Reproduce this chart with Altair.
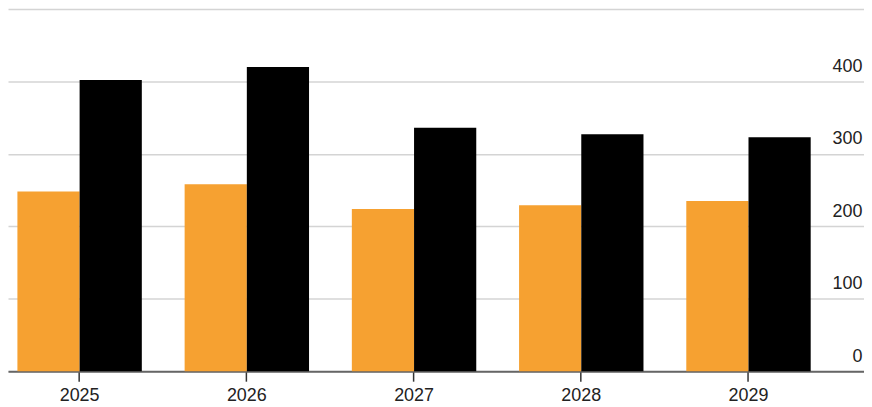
import altair as alt
import pandas as pd

years = ["2025", "2026", "2027", "2028", "2029"]
orange_vals = [248, 258, 224, 229, 235]
black_vals = [402, 420, 336, 327, 323]
series = ["A", "B"]
y_ticks = [0, 100, 200, 300, 400, 500]

rows = []
for i, yr in enumerate(years):
    rows.append({"year": yr, "series": series[0], "value": orange_vals[i]})
    rows.append({"year": yr, "series": series[1], "value": black_vals[i]})
df = pd.DataFrame(rows)

chart = alt.Chart(df).mark_bar().encode(
    x=alt.X("year:N", sort=years, title=None,
            scale=alt.Scale(paddingInner=0.256, paddingOuter=0.1875, align=0.15),
            axis=alt.Axis(labelAngle=0, labelFontSize=18, labelColor="#222222",
                          labelFont="Liberation Sans", labelPadding=5,
                          domainColor="#666666", domainWidth=2,
                          tickColor="#333333", tickSize=10, tickWidth=1.5,
                          grid=False)),
    xOffset=alt.XOffset("series:N", sort=series),
    y=alt.Y("value:Q", title=None,
            scale=alt.Scale(domain=[0, 500], nice=False),
            axis=alt.Axis(orient="right", values=y_ticks, domain=False, ticks=False,
                          tickSize=0, labelAlign="right", labelBaseline="alphabetic",
                          labelPadding=-2, labelOffset=-10, labelFontSize=18,
                          labelColor="#222222", labelFont="Liberation Sans",
                          labelExpr="datum.value == 500 ? '' : datum.label",
                          grid=True, gridColor="#d4d4d4", gridWidth=1.5)),
    color=alt.Color("series:N", sort=series,
                    scale=alt.Scale(domain=series, range=["#F6A131", "#000000"]),
                    legend=None),
).properties(
    width=860,
    height=364,
    autosize=alt.AutoSizeParams(type="none"),
    padding={"left": 0, "top": 0, "right": 0, "bottom": 35},
).configure_view(stroke=None)

chart.save("out.html", embed_options={"renderer": "svg", "actions": False})
